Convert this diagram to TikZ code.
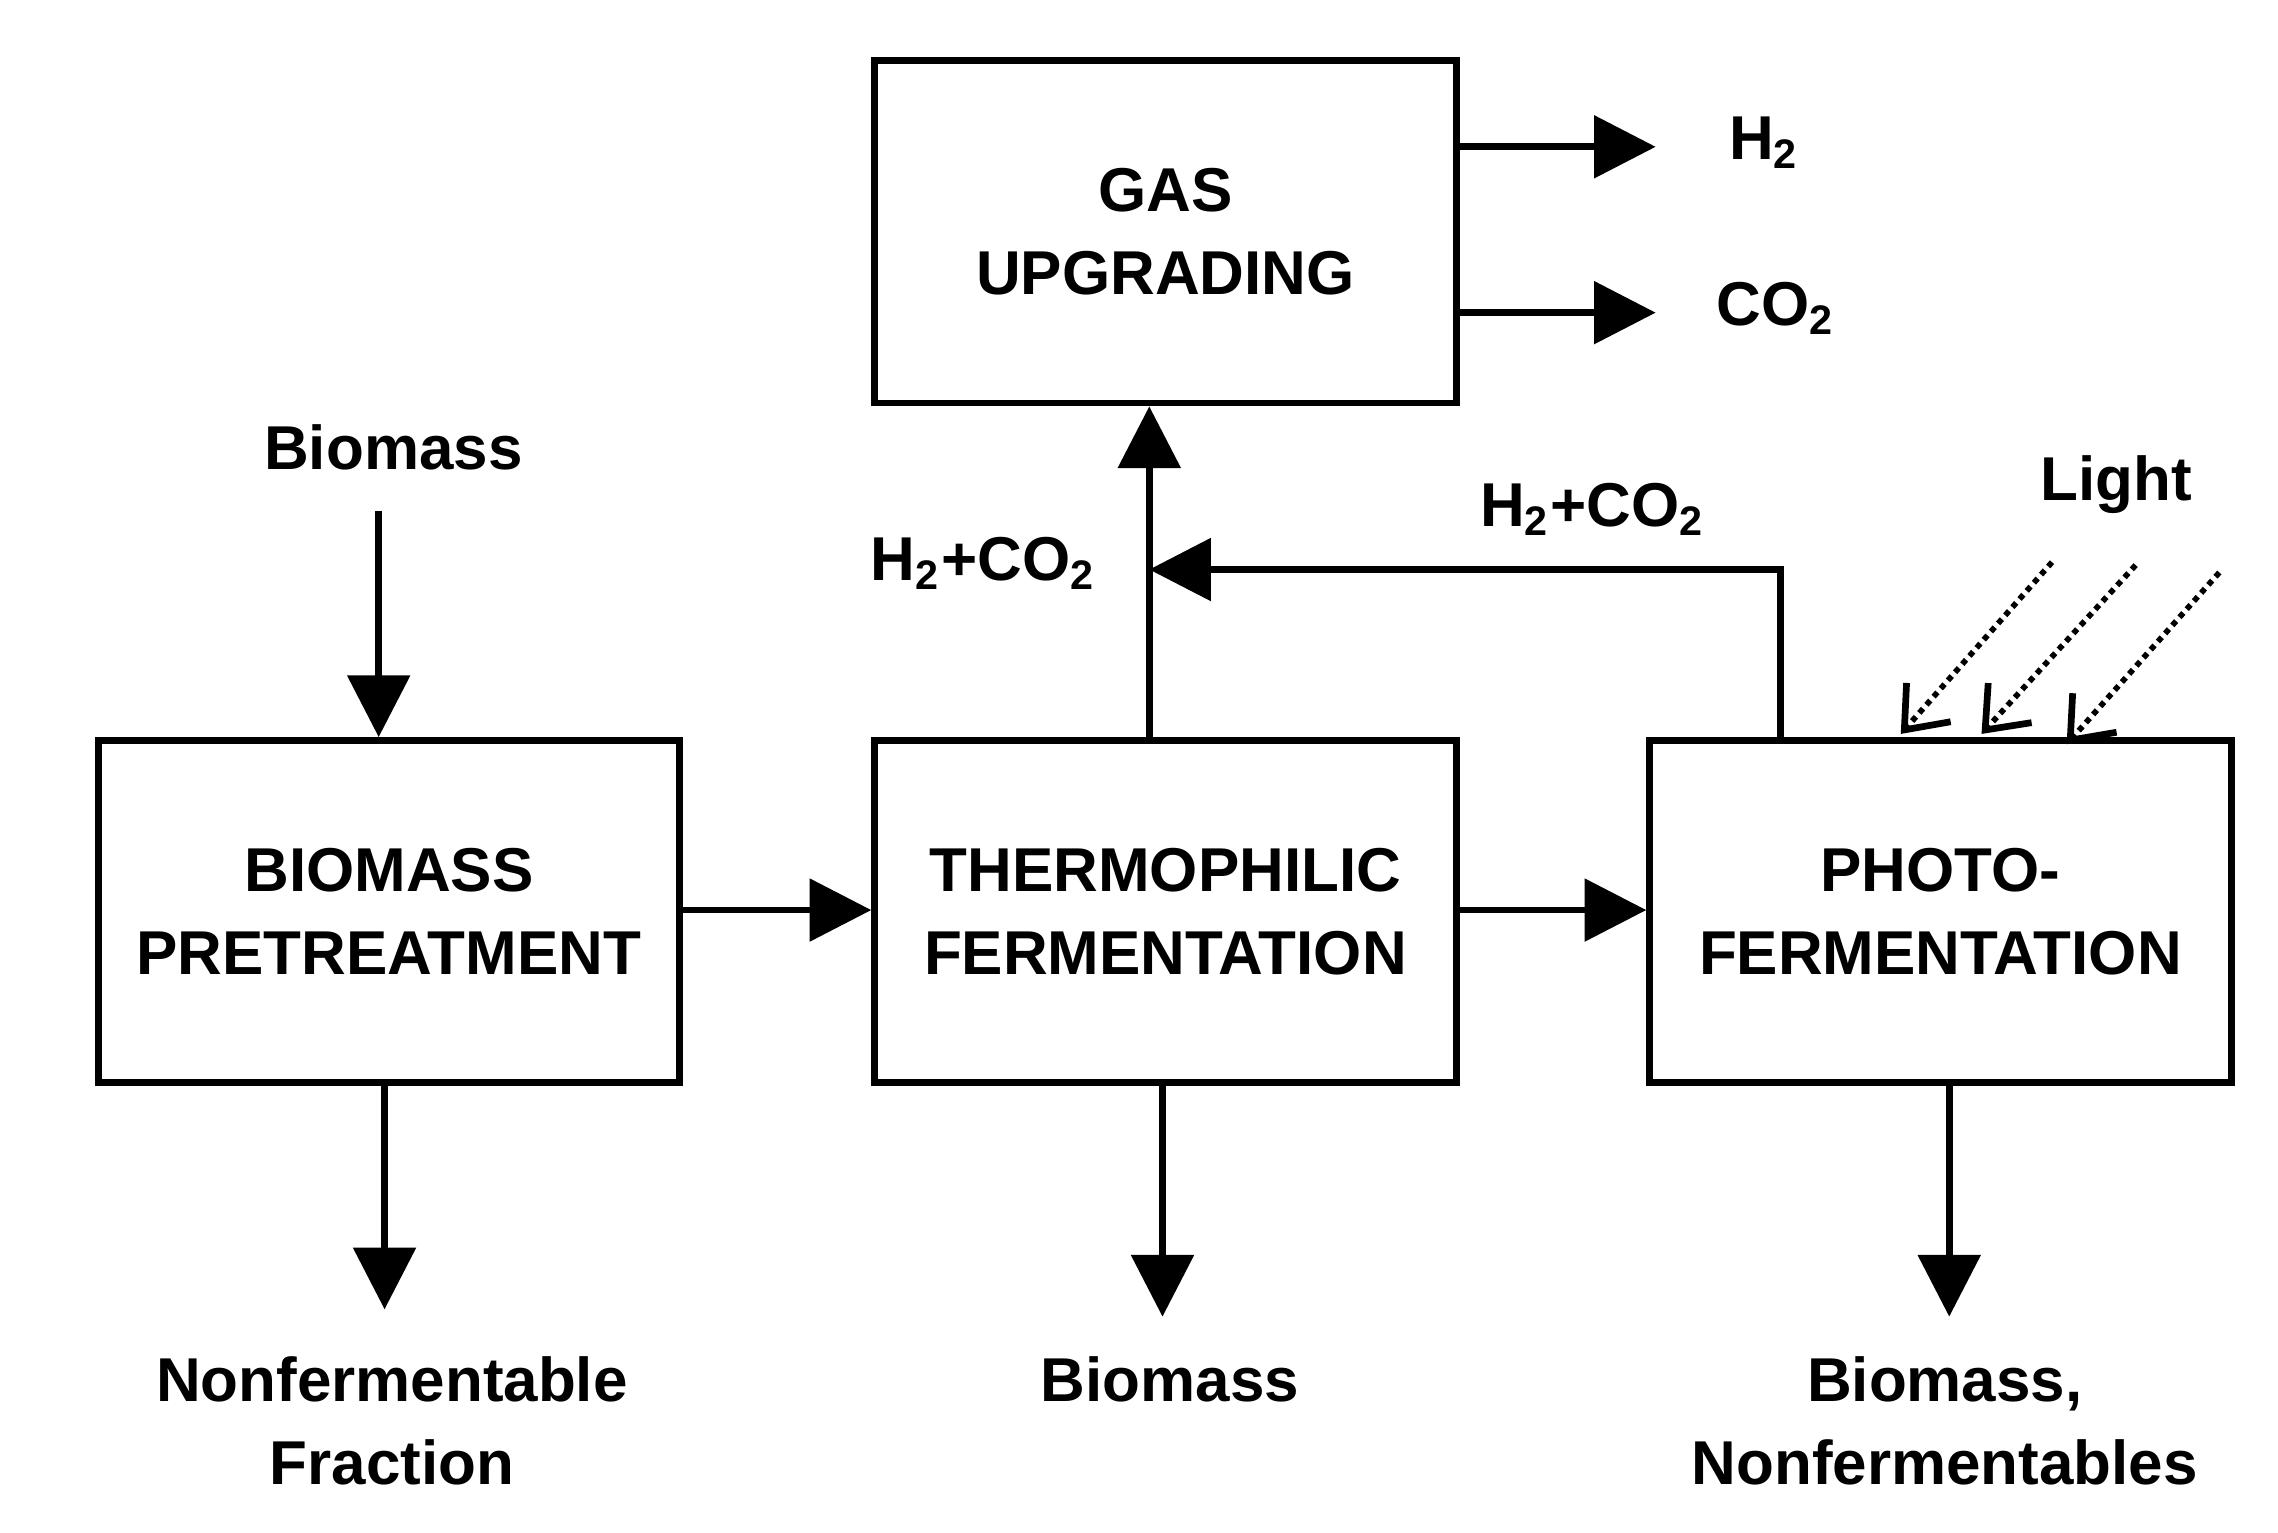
\documentclass[tikz,border=0pt]{standalone}
\usepackage{fontspec}
\setmainfont{Liberation Sans}
\usetikzlibrary{arrows.meta}
\begin{document}
\begin{tikzpicture}[x=0.01cm,y=-0.01cm,
 box/.style={draw,line width=1.3pt,minimum width=3.96cm,minimum height=2.33cm,align=center,inner sep=0pt,font=\fontsize{12}{16}\selectfont\bfseries},
 lab/.style={align=center,font=\fontsize{12}{16}\selectfont\bfseries},
 ar/.style={line width=1.3pt,-{Triangle[length=0.42cm,width=0.42cm]}},
 lt/.style={line width=1.1pt,densely dotted,-{Straight Barb[length=0.25cm,width=0.4cm,line width=1.3pt]}}]
\useasboundingbox (0,0) rectangle (1552,1044);
\node[box] (gas) at (794,158) {GAS\\UPGRADING};
\node[box] (pre) at (265,621) {BIOMASS\\PRETREATMENT};
\node[box] (th) at (794,621) {THERMOPHILIC\\FERMENTATION};
\node[box] (ph) at (1322,621) {PHOTO-\\FERMENTATION};
\coordinate (h2e) at (1128,100);
\coordinate (co2e) at (1128,213);
\draw[ar] (gas.east|-h2e) -- (h2e);
\draw[ar] (gas.east|-co2e) -- (co2e);
\node[lab] (h2) at (1202,97) {H\textsubscript{2}};
\node[lab] (co2) at (1210,210) {CO\textsubscript{2}};
\node[lab] (bio) at (268,305) {Biomass};
\coordinate (bioS) at (258,348);
\draw[ar] (bioS) -- (bioS|-pre.north);
\draw[ar] (pre.east|-0,620) -- (th.west|-0,620);
\draw[ar] (th.east|-0,620) -- (ph.west|-0,620);
\coordinate (tv) at (783,505);
\draw[ar] (tv) -- (tv|-gas.south);
\node[lab] (l1) at (670,384) {H\textsubscript{2}+CO\textsubscript{2}};
\coordinate (pv) at (1213,505);
\coordinate (pc) at (1213,388);
\coordinate (pe) at (783,388);
\draw[ar] (pv) -- (pc) -- (pe);
\node[lab] (l2) at (1085,347) {H\textsubscript{2}+CO\textsubscript{2}};
\node[lab] (light) at (1442,330) {Light};
\coordinate (a1) at (1398,383); \coordinate (b1) at (1295,500);
\coordinate (a2) at (1455,385); \coordinate (b2) at (1350,500);
\coordinate (a3) at (1512,390); \coordinate (b3) at (1408,507);
\draw[lt] (a1) -- (b1);
\draw[lt] (a2) -- (b2);
\draw[lt] (a3) -- (b3);
\coordinate (e1) at (262,892); \coordinate (e2) at (792,897); \coordinate (e3) at (1328,897);
\draw[ar] (e1|-pre.south) -- (e1);
\draw[ar] (e2|-th.south) -- (e2);
\draw[ar] (e3|-ph.south) -- (e3);
\node[lab] (o1) at (267,968) {Nonfermentable\\Fraction};
\node[lab] (o2) at (797,940) {Biomass};
\node[lab] (o3) at (1325,968) {Biomass,\\Nonfermentables};
\end{tikzpicture}
\end{document}
